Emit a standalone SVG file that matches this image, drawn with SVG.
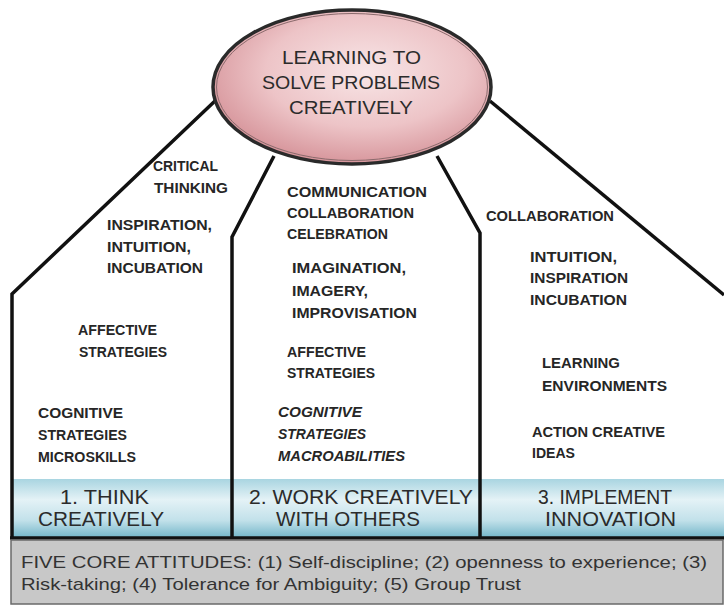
<svg xmlns="http://www.w3.org/2000/svg" width="724" height="606" viewBox="0 0 724 606">
<defs>
<radialGradient id="pink" cx="55%" cy="40%" r="60%">
<stop offset="0" stop-color="#f8e6e7"/>
<stop offset="0.6" stop-color="#edc4c7"/>
<stop offset="1" stop-color="#d7969c"/>
</radialGradient>
<linearGradient id="band" x1="0" y1="0" x2="0" y2="1">
<stop offset="0" stop-color="#a9d5e1"/>
<stop offset="0.35" stop-color="#e4f2f6"/>
<stop offset="0.7" stop-color="#c2e1ea"/>
<stop offset="1" stop-color="#72b5c8"/>
</linearGradient>
<style>
.t{font-family:"Liberation Sans",Arial,sans-serif;font-weight:bold;font-size:14px;fill:#262626}
.ti{font-style:italic}
.h{font-family:"Liberation Sans",Arial,sans-serif;font-size:18px;fill:#2b2b2b}
.b{font-family:"Liberation Sans",Arial,sans-serif;font-size:20px;fill:#2b2b2b}
.g{font-family:"Liberation Sans",Arial,sans-serif;font-size:17px;fill:#333}
.ln{fill:none;stroke:#111;stroke-width:3.5;stroke-linejoin:miter}
</style>
</defs>
<rect width="724" height="606" fill="#ffffff"/>

<g id="band-row">
<rect x="11" y="479" width="713" height="59" fill="url(#band)"/>
</g>

<g id="connectors">
<path class="ln" d="M216,100 L12,294 L12,538"/>
<path class="ln" d="M274,156 L232,237 L232,538"/>
<path class="ln" d="M437,156 L480,233 L480,538"/>
<path class="ln" d="M490,101 L724,295"/>
<path class="ln" d="M10,538 L724,538"/>
</g>

<g id="goal">
<ellipse cx="352" cy="87" rx="139" ry="77" fill="url(#pink)" stroke="#2a2a2a" stroke-width="3.5"/>
<ellipse cx="352" cy="87" rx="135.5" ry="73.5" fill="none" stroke="#8a6a6c" stroke-width="1"/>
<text class="h" x="282" y="64" textLength="139" lengthAdjust="spacingAndGlyphs">LEARNING TO</text>
<text class="h" x="262" y="89" textLength="178" lengthAdjust="spacingAndGlyphs">SOLVE PROBLEMS</text>
<text class="h" x="289" y="114" textLength="124" lengthAdjust="spacingAndGlyphs">CREATIVELY</text>
</g>

<g id="col-think">
<text class="t" x="153" y="171" textLength="65" lengthAdjust="spacingAndGlyphs">CRITICAL</text>
<text class="t" x="154" y="193" textLength="74" lengthAdjust="spacingAndGlyphs">THINKING</text>
<text class="t" x="107" y="230" textLength="105" lengthAdjust="spacingAndGlyphs">INSPIRATION,</text>
<text class="t" x="107" y="252" textLength="84" lengthAdjust="spacingAndGlyphs">INTUITION,</text>
<text class="t" x="107" y="273" textLength="96" lengthAdjust="spacingAndGlyphs">INCUBATION</text>
<text class="t" x="78" y="335" textLength="79" lengthAdjust="spacingAndGlyphs">AFFECTIVE</text>
<text class="t" x="79" y="357" textLength="88" lengthAdjust="spacingAndGlyphs">STRATEGIES</text>
<text class="t" x="38" y="418" textLength="85" lengthAdjust="spacingAndGlyphs">COGNITIVE</text>
<text class="t" x="38" y="440" textLength="89" lengthAdjust="spacingAndGlyphs">STRATEGIES</text>
<text class="t" x="38" y="462" textLength="98" lengthAdjust="spacingAndGlyphs">MICROSKILLS</text>
</g>

<g id="col-work">
<text class="t" x="287" y="197" textLength="140" lengthAdjust="spacingAndGlyphs">COMMUNICATION</text>
<text class="t" x="287" y="218" textLength="127" lengthAdjust="spacingAndGlyphs">COLLABORATION</text>
<text class="t" x="287" y="239" textLength="101" lengthAdjust="spacingAndGlyphs">CELEBRATION</text>
<text class="t" x="292" y="273" textLength="114" lengthAdjust="spacingAndGlyphs">IMAGINATION,</text>
<text class="t" x="292" y="296" textLength="76" lengthAdjust="spacingAndGlyphs">IMAGERY,</text>
<text class="t" x="292" y="318" textLength="125" lengthAdjust="spacingAndGlyphs">IMPROVISATION</text>
<text class="t" x="287" y="357" textLength="79" lengthAdjust="spacingAndGlyphs">AFFECTIVE</text>
<text class="t" x="287" y="378" textLength="88" lengthAdjust="spacingAndGlyphs">STRATEGIES</text>
<text class="t ti" x="278" y="417" textLength="84" lengthAdjust="spacingAndGlyphs">COGNITIVE</text>
<text class="t ti" x="278" y="439" textLength="88" lengthAdjust="spacingAndGlyphs">STRATEGIES</text>
<text class="t ti" x="278" y="461" textLength="127" lengthAdjust="spacingAndGlyphs">MACROABILITIES</text>
</g>

<g id="col-implement">
<text class="t" x="486" y="221" textLength="128" lengthAdjust="spacingAndGlyphs">COLLABORATION</text>
<text class="t" x="530" y="262" textLength="87" lengthAdjust="spacingAndGlyphs">INTUITION,</text>
<text class="t" x="530" y="283" textLength="98" lengthAdjust="spacingAndGlyphs">INSPIRATION</text>
<text class="t" x="530" y="305" textLength="97" lengthAdjust="spacingAndGlyphs">INCUBATION</text>
<text class="t" x="542" y="368" textLength="78" lengthAdjust="spacingAndGlyphs">LEARNING</text>
<text class="t" x="542" y="391" textLength="125" lengthAdjust="spacingAndGlyphs">ENVIRONMENTS</text>
<text class="t" x="532" y="437" textLength="133" lengthAdjust="spacingAndGlyphs">ACTION CREATIVE</text>
<text class="t" x="532" y="458" textLength="43" lengthAdjust="spacingAndGlyphs">IDEAS</text>
</g>

<g id="stage-1">
<text class="b" x="60" y="504" textLength="89" lengthAdjust="spacingAndGlyphs">1. THINK</text>
<text class="b" x="38" y="526" textLength="126" lengthAdjust="spacingAndGlyphs">CREATIVELY</text>
</g>
<g id="stage-2">
<text class="b" x="249" y="504" textLength="224" lengthAdjust="spacingAndGlyphs">2. WORK CREATIVELY</text>
<text class="b" x="276" y="526" textLength="144" lengthAdjust="spacingAndGlyphs">WITH OTHERS</text>
</g>
<g id="stage-3">
<text class="b" x="538" y="504" textLength="134" lengthAdjust="spacingAndGlyphs">3. IMPLEMENT</text>
<text class="b" x="545" y="526" textLength="131" lengthAdjust="spacingAndGlyphs">INNOVATION</text>
</g>

<g id="attitudes">
<rect x="11" y="540" width="712" height="64" fill="#c8c8c8" stroke="#6a6a6a" stroke-width="1.5"/>
<text class="g" x="21" y="568" textLength="686" lengthAdjust="spacingAndGlyphs">FIVE CORE ATTITUDES: (1) Self-discipline;  (2) openness to experience; (3)</text>
<text class="g" x="21" y="590" textLength="500" lengthAdjust="spacingAndGlyphs">Risk-taking; (4) Tolerance for Ambiguity; (5) Group Trust</text>
</g>
</svg>
